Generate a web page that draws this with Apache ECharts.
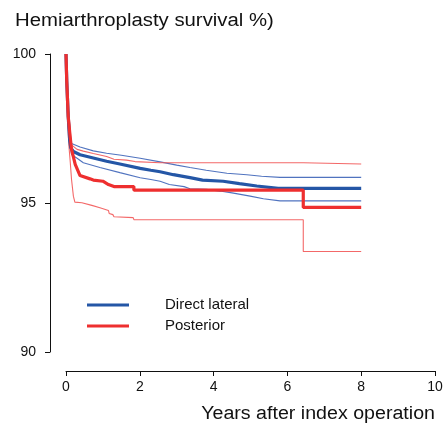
<!DOCTYPE html>
<html>
<head>
<meta charset="utf-8">
<script src="https://cdn.jsdelivr.net/npm/echarts@6/dist/echarts.min.js"></script>
<style>
html,body{margin:0;padding:0;background:#fff;}
#chart{width:446px;height:423px;}
</style>
</head>
<body>
<div id="chart"></div>
<script>
// ---- data (years, survival %) ----
const titleText = 'Hemiarthroplasty survival %)';
const xTitle = 'Years after index operation';
const yTicks = [90, 95, 100];
const xTicks = [0, 2, 4, 6, 8, 10];
const seriesNames = ['Direct lateral', 'Posterior'];

const directLateral = [[0,100],[0.02,99.1],[0.06,97.9],[0.1,97.1],[0.13,96.85],[0.2,96.73],[0.38,96.62],[0.74,96.51],[1.1,96.4],[1.46,96.31],[2.01,96.16],[2.3,96.1],[2.55,96.05],[2.91,95.95],[3.36,95.85],[3.7,95.77],[4.26,95.73],[4.7,95.65],[5.17,95.57],[5.75,95.49],[8.0,95.49]];
const directLateralUpper = [[0,100],[0.02,99.15],[0.06,98.0],[0.1,97.3],[0.15,97.0],[0.38,96.88],[0.74,96.75],[1.1,96.67],[1.5,96.6],[2.01,96.5],[2.55,96.38],[3.0,96.27],[3.36,96.19],[3.8,96.1],[4.36,96.0],[4.9,95.95],[5.3,95.9],[5.8,95.86],[8.0,95.86]];
const directLateralLower = [[0,100],[0.02,99.05],[0.06,97.8],[0.1,97.0],[0.15,96.63],[0.3,96.5],[0.47,96.35],[0.92,96.19],[1.46,96.02],[2.01,95.85],[2.3,95.79],[2.55,95.73],[2.8,95.62],[3.2,95.55],[3.36,95.48],[3.8,95.46],[4.17,95.4],[4.5,95.34],[4.99,95.23],[5.35,95.14],[5.8,95.07],[8.0,95.07]];

const posterior = [[0,100],[0.02,99.1],[0.06,97.9],[0.11,97.25],[0.15,96.8],[0.25,96.3],[0.38,95.92],[0.65,95.81],[0.74,95.77],[1.0,95.73],[1.15,95.62],[1.3,95.55],[1.84,95.55],[1.84,95.43],[6.43,95.43],[6.43,94.85],[8.0,94.85]];
const posteriorUpper = [[0,100],[0.02,99.2],[0.06,98.2],[0.11,97.5],[0.15,96.95],[0.3,96.8],[0.47,96.74],[0.74,96.66],[1.1,96.56],[1.3,96.47],[1.64,96.44],[1.87,96.39],[2.55,96.35],[6.43,96.35],[6.43,96.31],[8.0,96.31]];
const posteriorLower = [[0,100],[0.02,99.0],[0.05,97.6],[0.08,96.9],[0.11,96.46],[0.15,95.79],[0.2,95.23],[0.24,95.03],[0.43,95.01],[0.47,94.95],[0.7,94.92],[0.74,94.87],[0.92,94.84],[0.97,94.78],[1.15,94.75],[1.17,94.65],[1.27,94.61],[1.3,94.54],[1.82,94.51],[1.84,94.44],[6.43,94.44],[6.43,93.37],[8.0,93.37]];

const BLUE = '#2456a6', BLUE_CI = '#3d64b8';
const RED = '#ee2f2f', RED_CI = '#f25858';
const FONT = '"Liberation Sans", Arial, Helvetica, sans-serif';

const chart = echarts.init(document.getElementById('chart'), null, {renderer: 'canvas'});

function ci(name, data, color, op) {
  return {name: name, type: 'line', data: data, showSymbol: false, symbol: 'none',
    lineStyle: {color: color, width: 1.1, opacity: op}, itemStyle: {color: color},
    silent: true, z: 2, animation: false};
}
function main(name, data, color, z) {
  return {name: name, type: 'line', data: data, showSymbol: false, symbol: 'none',
    lineStyle: {color: color, width: 3.2}, itemStyle: {color: color},
    silent: true, z: z, animation: false};
}

chart.setOption({
  animation: false,
  backgroundColor: '#fff',
  grid: {left: 66, right: 11, top: 54, bottom: 71, containLabel: false},
  xAxis: {
    type: 'value', min: xTicks[0], max: xTicks[xTicks.length - 1], interval: 2,
    offset: 19,
    axisLine: {show: true, onZero: false, lineStyle: {color: '#111', width: 1}},
    axisTick: {show: true, length: 5, lineStyle: {color: '#111'}},
    axisLabel: {color: '#111', fontSize: 14, fontFamily: FONT, margin: 9},
    splitLine: {show: false}
  },
  yAxis: {
    type: 'value', min: yTicks[0], max: yTicks[yTicks.length - 1], interval: 5,
    offset: 16,
    axisLine: {show: true, onZero: false, lineStyle: {color: '#111', width: 1}},
    axisTick: {show: true, length: 5, lineStyle: {color: '#111'}},
    axisLabel: {color: '#111', fontSize: 14, fontFamily: FONT, margin: 14},
    splitLine: {show: false}
  },
  legend: {
    orient: 'vertical', left: 82, top: 292,
    data: seriesNames,
    icon: 'rect', itemWidth: 42, itemHeight: 3, itemGap: 5,
    textStyle: {color: '#111', fontSize: 15, fontFamily: FONT, lineHeight: 16, padding: [0, 0, 0, 31]}
  },
  graphic: [
    {type: 'text', left: 15, top: 12, scaleX: 1.13,
      style: {text: titleText, fontSize: 18, fontFamily: FONT, fill: '#111'}},
    {type: 'text', right: 11, top: 405, scaleX: 1.09, originX: 0,
      style: {text: xTitle, fontSize: 18, fontFamily: FONT, fill: '#111'}}
  ],
  series: [
    ci('DL upper', directLateralUpper, BLUE_CI, 0.9),
    ci('DL lower', directLateralLower, BLUE_CI, 0.9),
    ci('Post upper', posteriorUpper, RED_CI, 0.9),
    ci('Post lower', posteriorLower, RED_CI, 0.9),
    main(seriesNames[0], directLateral, BLUE, 3),
    main(seriesNames[1], posterior, RED, 4)
  ]
});
</script>
</body>
</html>
